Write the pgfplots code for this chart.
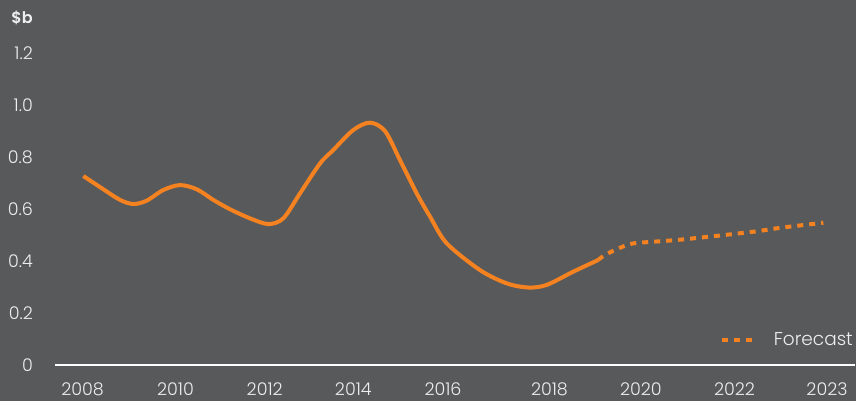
\documentclass[border=0pt]{standalone}
\usepackage{pgfplots}
\pgfplotsset{compat=1.18}
\usepackage{fontspec}
\setmainfont{Poppins}[UprightFont=* Light, BoldFont=* SemiBold]
\definecolor{bg}{HTML}{58595B}
\definecolor{orng}{HTML}{F58220}
\definecolor{txt}{HTML}{EEEEEE}
\begin{document}
\begin{tikzpicture}[x=1pt,y=1pt]
% background, the size of the reference picture
\fill[bg] (-55pt,-36pt) rectangle (801pt,365pt);
\path[use as bounding box] (-55pt,-36pt) rectangle (801pt,365pt);
\node[anchor=east, inner sep=0pt, font=\fontsize{16}{18}\selectfont\bfseries, text=txt] at (-22pt,347pt) {\$b};
\begin{axis}[
    at={(0,0)}, anchor=south west,
    scale only axis,
    width=800pt, height=338pt,
    xmin=55, xmax=855,
    ymin=0, ymax=1.3,
    axis x line=bottom,
    axis y line=left,
    x axis line style={white, line width=2.5pt, -},
    y axis line style={draw=none},
    xtick={82.5,175.5,264.7,353.3,443,549.5,640.8,734.5,827},
    xticklabels={2008,2010,2012,2014,2016,2018,2020,2022,2023},
    ytick={0,0.2,0.4,0.6,0.8,1.0,1.2},
    yticklabels={0,0.2,0.4,0.6,0.8,1.0,1.2},
    major tick length=0pt,
    tick style={draw=none},
    ticklabel style={font=\fontsize{17.5}{19}\selectfont, text=txt, inner sep=0pt},
    xticklabel style={anchor=north},
    yticklabel style={anchor=east},
    xticklabel shift=18pt,
    yticklabel shift=22pt,
    /pgf/number format/assume math mode=true,
    clip=false,
    legend style={draw=none, fill=none, at={(axis cs:853,0.096)}, anchor=east,
        inner sep=0pt, column sep=20pt,
        nodes={inner sep=0pt, text=txt, font=\fontsize{18.5}{20}\selectfont}},
    legend image code/.code={\draw[#1] (0pt,0pt) -- (30pt,0pt);},
]
% actual
\addplot[orng, line width=4pt, smooth, forget plot] coordinates {
    (83.3,0.727) (103.3,0.676) (120,0.635) (133.3,0.619) (146.7,0.632)
    (163.3,0.673) (180,0.692) (196.7,0.676) (213.3,0.635) (230,0.599)
    (250,0.564) (268.3,0.542) (283.3,0.564) (300,0.660) (320,0.775)
    (333.3,0.827) (353.3,0.904) (370,0.932) (385,0.900) (400,0.788)
    (416.7,0.660) (430,0.571) (446.7,0.468) (480,0.365) (506.7,0.314)
    (528.3,0.298) (546.7,0.308) (573.3,0.359) (598.3,0.404)
};
% forecast
\addplot[orng, line width=4pt, smooth, dash pattern=on 6pt off 6pt] coordinates {
    (598.3,0.404) (606.7,0.427) (630,0.465) (653.3,0.474) (683,0.483)
    (750,0.511) (783,0.529) (823.3,0.547)
};
\legend{Forecast}
\end{axis}
\end{tikzpicture}
\end{document}
